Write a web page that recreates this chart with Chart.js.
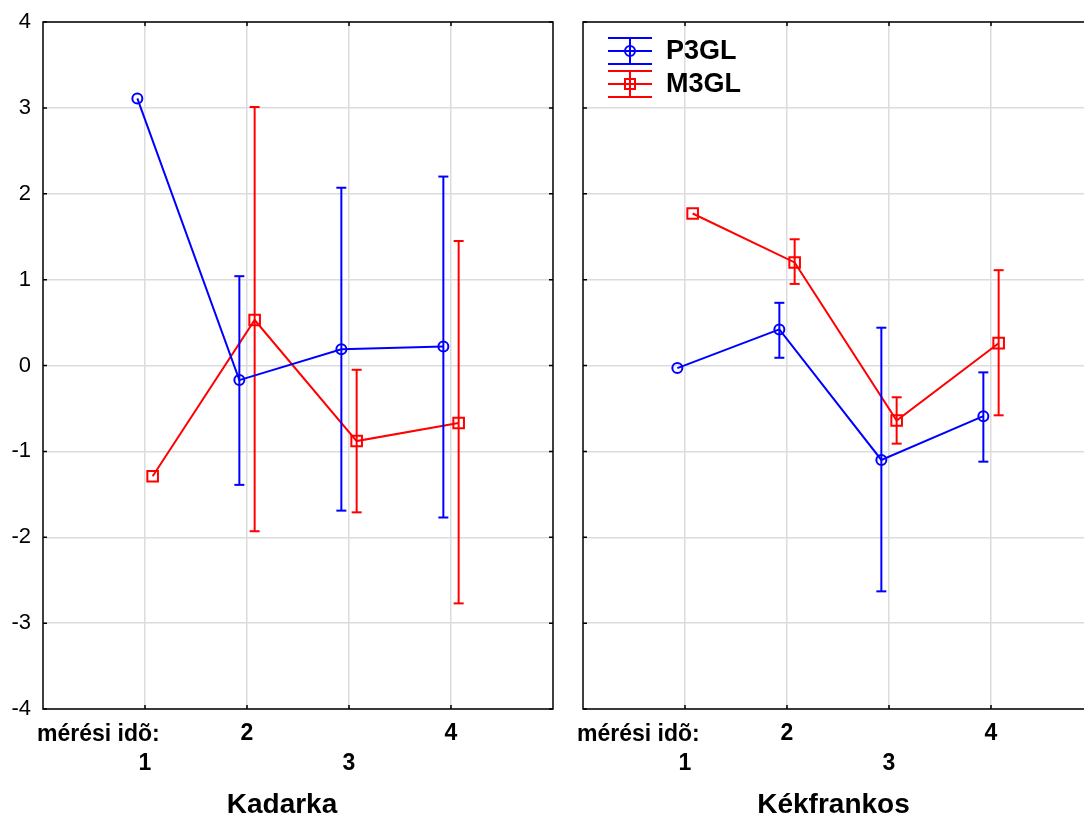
<!DOCTYPE html>
<html lang="en">
<head>
    <meta charset="UTF-8">
    <script src="https://cdn.jsdelivr.net/npm/chart.js"></script>
    <title>Kadarka / Kékfrankos</title>
    <style>
        * { margin: 0; padding: 0; box-sizing: border-box; }
        html, body { width: 1084px; height: 819px; overflow: hidden; background: #fff; }
        .panel { position: absolute; top: 0; height: 819px; }
    </style>
</head>
<body>
    <div class="panel" style="left:0;width:568px"><canvas id="kadarka"></canvas></div>
    <div class="panel" style="left:568px;width:540px"><canvas id="kekfrankos"></canvas></div>
<script>
    // measurement times
    const times = [1, 2, 3, 4];
    const seriesNames = ['P3GL', 'M3GL'];

    // Kadarka: means and error bar limits (null = no bar)
    const kadP3 = [3.11, -0.17, 0.19, 0.22];
    const kadP3Lo = [null, -1.39, -1.69, -1.77];
    const kadP3Hi = [null, 1.04, 2.07, 2.20];
    const kadM3 = [-1.29, 0.53, -0.88, -0.67];
    const kadM3Lo = [null, -1.93, -1.71, -2.77];
    const kadM3Hi = [null, 3.01, -0.05, 1.45];

    // Kékfrankos
    const kekP3 = [-0.03, 0.42, -1.10, -0.59];
    const kekP3Lo = [null, 0.09, -2.63, -1.12];
    const kekP3Hi = [null, 0.73, 0.44, -0.08];
    const kekM3 = [1.77, 1.20, -0.64, 0.26];
    const kekM3Lo = [null, 0.95, -0.91, -0.58];
    const kekM3Hi = [null, 1.47, -0.37, 1.11];

    const yTicks = [-4, -3, -2, -1, 0, 1, 2, 3, 4];

    const BLUE = '#0000ff';
    const RED = '#ff0000';
    const FONT = "'Liberation Sans', Arial, sans-serif";
    const LW = 2;

    const makeDatasets = (vals, lo, hi, color, shift, marker, radius, name) => {
        const sets = [{
            label: name,
            data: times.map((t, i) => ({ x: t + shift, y: vals[i] })),
            borderColor: color,
            borderWidth: LW,
            pointStyle: marker,
            pointRadius: radius,
            pointBorderWidth: LW,
            pointBorderColor: color,
            pointBackgroundColor: 'rgba(0,0,0,0)'
        }];
        times.forEach((t, i) => {
            if (lo[i] === null) return;
            sets.push({
                label: '',
                data: [{ x: t + shift, y: lo[i] }, { x: t + shift, y: hi[i] }],
                borderColor: color,
                borderWidth: LW,
                pointStyle: 'line',
                pointRadius: 5,
                pointBorderWidth: LW,
                pointBorderColor: color
            });
        });
        return sets;
    };

    // frame round the plot area with small inward ticks, plus x label lead text and legend
    const framePlugin = {
        id: 'frame',
        afterDraw(chart, args, opts) {
            const { ctx, chartArea: a, scales } = chart;
            ctx.save();
            ctx.strokeStyle = '#000';
            ctx.lineWidth = 1.5;
            ctx.strokeRect(a.left, a.top, a.right - a.left, a.bottom - a.top);
            ctx.beginPath();
            times.forEach(t => {
                const x = scales.x.getPixelForValue(t);
                ctx.moveTo(x, a.top); ctx.lineTo(x, a.top + 4);
                ctx.moveTo(x, a.bottom); ctx.lineTo(x, a.bottom - 4);
            });
            yTicks.forEach(v => {
                const y = scales.y.getPixelForValue(v);
                ctx.moveTo(a.left, y); ctx.lineTo(a.left + 4, y);
                ctx.moveTo(a.right, y); ctx.lineTo(a.right - 4, y);
            });
            ctx.stroke();

            ctx.fillStyle = '#000';
            ctx.font = 'bold 23px ' + FONT;
            ctx.textAlign = 'left';
            ctx.textBaseline = 'middle';
            ctx.fillText('mérési idõ:', a.left - 6, a.bottom + 26);

            if (opts.legend) {
                const x0 = a.left + 25, x1 = a.left + 69, xm = (x0 + x1) / 2;
                const items = [
                    { name: seriesNames[0], color: BLUE, y: a.top + 29, circle: true },
                    { name: seriesNames[1], color: RED, y: a.top + 62, circle: false }
                ];
                items.forEach(it => {
                    ctx.strokeStyle = it.color;
                    ctx.lineWidth = LW;
                    ctx.beginPath();
                    [-13, 0, 13].forEach(d => { ctx.moveTo(x0, it.y + d); ctx.lineTo(x1, it.y + d); });
                    ctx.moveTo(xm, it.y - 13); ctx.lineTo(xm, it.y + 13);
                    ctx.stroke();
                    ctx.beginPath();
                    if (it.circle) ctx.arc(xm, it.y, 5, 0, Math.PI * 2);
                    else ctx.rect(xm - 5, it.y - 5, 10, 10);
                    ctx.stroke();
                    ctx.fillStyle = '#000';
                    ctx.font = 'bold 27px ' + FONT;
                    ctx.textAlign = 'left';
                    ctx.fillText(it.name, x1 + 14, it.y + 1);
                });
            }
            ctx.restore();
        }
    };

    // padLeft + yWidth puts the plot's left edge; padLeft also moves the centred title
    const createPanel = (id, title, p3, p3Lo, p3Hi, m3, m3Lo, m3Hi, showYLabels, showLegend, padLeft, yWidth) => {
        const datasets = [
            ...makeDatasets(p3, p3Lo, p3Hi, BLUE, -0.075, 'circle', 5, seriesNames[0]),
            ...makeDatasets(m3, m3Lo, m3Hi, RED, 0.075, 'rect', 7.5, seriesNames[1])
        ];
        return new Chart(document.getElementById(id), {
            type: 'line',
            data: { datasets: datasets },
            options: {
                responsive: true,
                maintainAspectRatio: false,
                animation: false,
                layout: { padding: { top: 22, right: 15, left: padLeft, bottom: 0 } },
                plugins: {
                    legend: { display: false },
                    tooltip: { enabled: false },
                    title: {
                        display: true,
                        position: 'bottom',
                        text: title,
                        color: '#000',
                        font: { family: FONT, size: 28, weight: 'bold', lineHeight: 1.0 },
                        padding: { top: 19, bottom: 0 }
                    },
                    frame: { legend: showLegend }
                },
                scales: {
                    x: {
                        type: 'linear',
                        min: 0,
                        max: 5,
                        afterBuildTicks: s => { s.ticks = [0, 1, 2, 3, 4, 5].map(v => ({ value: v })); },
                        afterFit: s => { s.height = 63; s.paddingLeft = 0; s.paddingRight = 0; },
                        grid: {
                            color: c => (c.tick.value === 0 || c.tick.value === 5) ? 'rgba(0,0,0,0)' : '#dcdcdc',
                            lineWidth: 1.5,
                            drawTicks: false
                        },
                        border: { display: false },
                        ticks: {
                            autoSkip: false,
                            maxRotation: 0,
                            padding: 10,
                            color: '#000',
                            font: { family: FONT, size: 23, weight: 'bold', lineHeight: 1.3 },
                            callback: v => {
                                if (v === 1 || v === 3) return ['', String(v)];
                                if (v === 2 || v === 4) return [String(v), ''];
                                return '';
                            }
                        }
                    },
                    y: {
                        min: -4,
                        max: 4,
                        afterBuildTicks: s => { s.ticks = yTicks.map(v => ({ value: v })); },
                        afterFit: s => {
                            s.width = yWidth;
                            s.paddingTop = 0;
                            s.paddingBottom = 0;
                        },
                        grid: { color: '#dcdcdc', lineWidth: 1.5, drawTicks: false },
                        border: { display: false },
                        ticks: {
                            display: showYLabels,
                            padding: 12,
                            color: '#000',
                            font: { family: FONT, size: 22 }
                        }
                    }
                }
            },
            plugins: [framePlugin]
        });
    };

    createPanel('kadarka', 'Kadarka', kadP3, kadP3Lo, kadP3Hi, kadM3, kadM3Lo, kadM3Hi, true, false, 11, 32);
    createPanel('kekfrankos', 'Kékfrankos', kekP3, kekP3Lo, kekP3Hi, kekM3, kekM3Lo, kekM3Hi, false, true, 6, 9);
</script>
</body>
</html>
